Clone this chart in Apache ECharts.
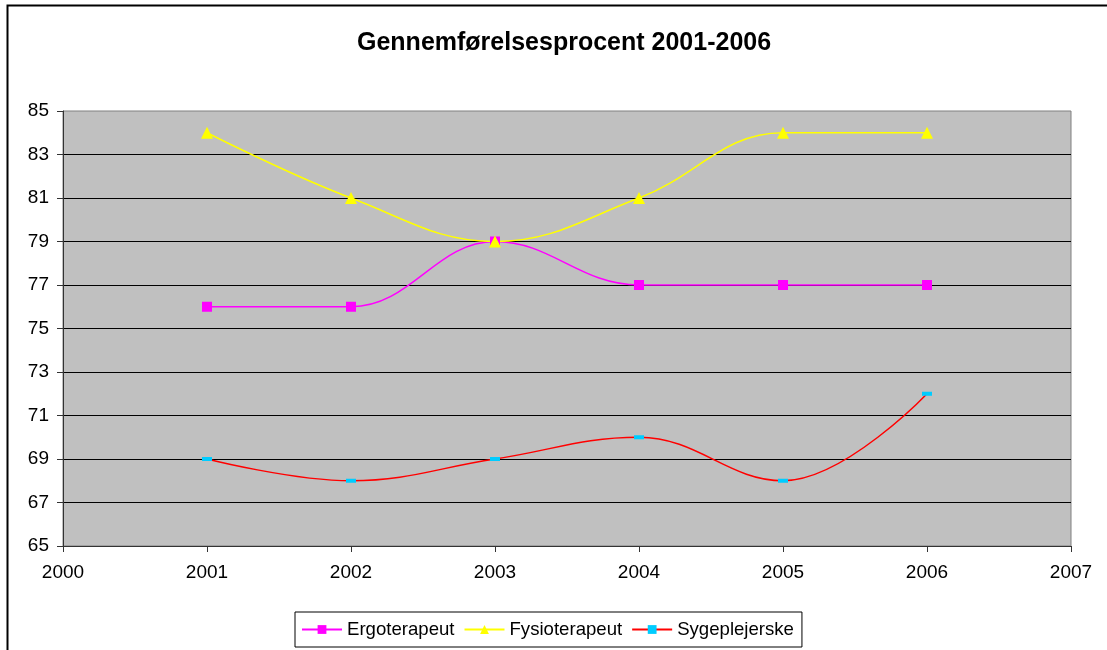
<!DOCTYPE html>
<html>
<head>
<meta charset="utf-8">
<script src="https://cdn.jsdelivr.net/npm/echarts@6/dist/echarts.min.js"></script>
<style>
  html, body { margin: 0; padding: 0; background: #fff; }
  #chart { width: 1107px; height: 650px; }
</style>
</head>
<body>
<div id="chart"></div>
<script>
// data
var years = [2001, 2002, 2003, 2004, 2005, 2006];
var ergoterapeut = [76, 76, 79, 77, 77, 77];
var fysioterapeut = [84, 81, 79, 81, 84, 84];
var sygeplejerske = [69, 68, 69, 70, 68, 72];

function pairs(vals) {
    return vals.map(function (v, i) { return [years[i], v]; });
}

var myChart = echarts.init(document.getElementById('chart'));

var axisText = { color: '#000', fontFamily: 'Liberation Sans, Arial', fontSize: 19 };

var option = {
    animation: false,
    backgroundColor: '#fff',
    graphic: [{
        type: 'rect',
        shape: { x: 7.5, y: 5.5, width: 1120, height: 680 },
        style: { fill: 'none', stroke: '#000', lineWidth: 2 },
        silent: true
    }],
    title: {
        text: 'Gennemførelsesprocent 2001-2006',
        left: 357,
        top: 31,
        padding: 0,
        textStyle: { fontFamily: 'Liberation Sans, Arial', fontSize: 25, fontWeight: 'bold', color: '#000' }
    },
    grid: {
        left: 63, right: 36, top: 111, bottom: 104,
        show: true,
        backgroundColor: '#C0C0C0',
        borderColor: '#808080',
        borderWidth: 1
    },
    legend: {
        top: 612,
        left: 295,
        itemWidth: 40,
        itemHeight: 11,
        itemGap: 9,
        padding: [8, 8, 8, 6],
        borderColor: '#000',
        borderWidth: 1,
        textStyle: { fontFamily: 'Liberation Sans, Arial', fontSize: 18.6, color: '#000' },
        data: ['Ergoterapeut', 'Fysioterapeut', 'Sygeplejerske']
    },
    xAxis: {
        type: 'value',
        min: 2000, max: 2007, interval: 1,
        axisLine: { show: true, lineStyle: { color: '#333', width: 1 } },
        axisTick: { show: true, length: 6, lineStyle: { color: '#333' } },
        axisLabel: Object.assign({ margin: 17, formatter: function (v) { return String(v); } }, axisText),
        splitLine: { show: false }
    },
    yAxis: {
        type: 'value',
        min: 65, max: 85, interval: 2,
        axisLine: { show: true, lineStyle: { color: '#333', width: 1 } },
        axisTick: { show: true, length: 6, lineStyle: { color: '#333' } },
        axisLabel: Object.assign({ margin: 14 }, axisText),
        splitLine: { show: true, showMaxLine: false, lineStyle: { color: '#000', width: 1 } }
    },
    series: [
        {
            name: 'Ergoterapeut',
            type: 'line',
            smooth: 0.4,
            symbol: 'rect',
            symbolSize: 10,
            lineStyle: { color: '#FF00FF', width: 1.5 },
            itemStyle: { color: '#FF00FF' },
            data: pairs(ergoterapeut)
        },
        {
            name: 'Fysioterapeut',
            type: 'line',
            smooth: 0.4,
            symbol: 'triangle',
            symbolSize: 12,
            lineStyle: { color: '#FFFF00', width: 1.5 },
            itemStyle: { color: '#FFFF00' },
            data: pairs(fysioterapeut)
        },
        {
            name: 'Sygeplejerske',
            type: 'line',
            smooth: 0.4,
            symbol: 'rect',
            symbolSize: [10, 4],
            lineStyle: { color: '#FF0000', width: 1.5 },
            itemStyle: { color: '#00CCFF' },
            data: pairs(sygeplejerske)
        }
    ]
};

myChart.setOption(option);
</script>
</body>
</html>
